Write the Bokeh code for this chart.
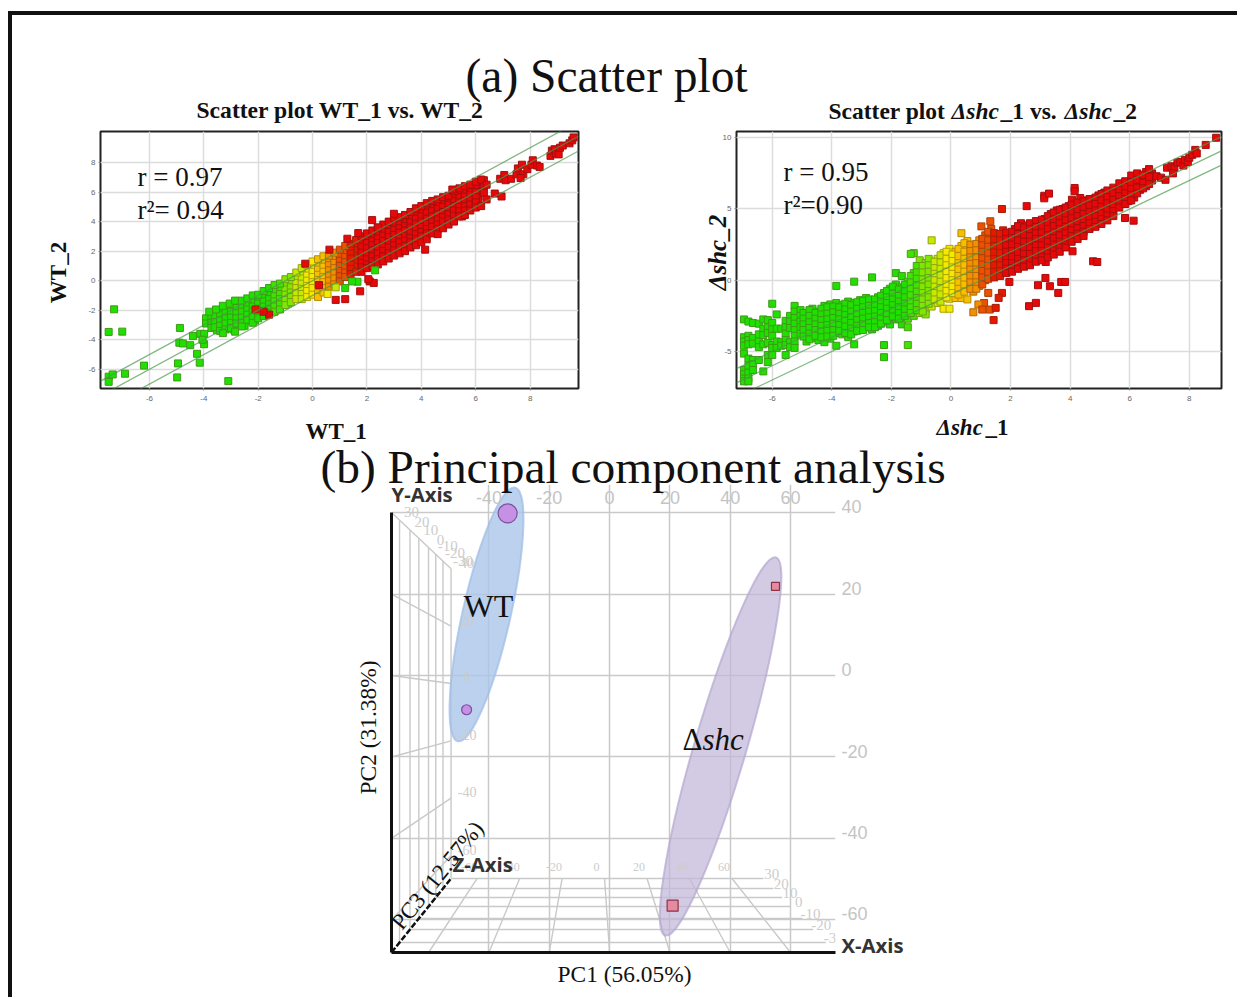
from bokeh.plotting import figure
from bokeh.embed import file_html
from bokeh.resources import INLINE
from bokeh.layouts import column, row
from bokeh.models import (Label, LabelSet, ColumnDataSource, FixedTicker, LinearAxis, Grid,
                          Range1d, LinearColorMapper)
from bokeh.transform import transform

# ---------- data: (a) WT_1 vs WT_2, read as columns x -> y values ----------
wt_columns = [
 (-3.92,[-2.55,-2.9]),(-3.72,[-2.45,-2.85,-3.2]),(-3.52,[-2.25,-2.65,-3.0,-3.35]),(-3.31,[-2.15,-2.5,-2.9,-3.25]),
 (-3.12,[-2.0,-2.4,-2.75,-3.15]),(-2.91,[-1.9,-2.25,-2.6,-3.0,-3.3]),(-2.72,[-1.8,-2.15,-2.5,-2.85]),
 (-2.5,[-1.7,-2.05,-2.4,-2.8,-3.05]),(-2.31,[-1.45,-1.85,-2.2,-2.55]),(-2.12,[-1.3,-1.65,-2.0,-2.35,-2.7]),
 (-1.91,[-1.15,-1.5,-1.85,-2.2]),(-1.72,[-1.0,-1.35,-1.7,-2.0]),(-1.51,[-0.85,-1.2,-1.55,-1.9]),
 (-1.3,[-0.75,-1.1,-1.45,-1.8]),(-1.1,[-0.35,-0.7,-1.0,-1.35]),(-0.9,[-0.2,-0.55,-0.85,-1.2,-1.55]),
 (-0.7,[0.0,-0.35,-0.7,-1.05]),(-0.5,[0.4,0.1,-0.25,-0.6,-0.95]),(-0.3,[0.6,0.25,-0.1,-0.45,-0.8]),
 (-0.1,[0.85,0.5,0.15,-0.2,-0.6]),(0.1,[1.0,0.7,0.35,0.0,-0.35,-0.75]),(0.3,[1.25,0.85,0.5,0.15,-0.2,-0.6]),
 (0.5,[1.35,1.0,0.65,0.3,-0.05,-0.4]),(0.7,[1.4,1.1,0.8,0.45,0.1]),(0.9,[1.6,1.25,0.95,0.6,0.25]),
 (1.1,[2.0,1.55,1.15,0.8,0.45]),(1.3,[2.1,1.75,1.4,1.05,0.7]),(1.5,[2.3,1.95,1.55,1.2,0.85]),
 (1.7,[2.55,2.15,1.8,1.45,1.1,0.8]),(1.9,[2.8,2.4,2.05,1.7,1.3,1.0]),(2.1,[3.0,2.65,2.3,1.95,1.6,1.2]),
 (2.3,[3.1,2.8,2.45,2.1,1.75,1.4]),(2.5,[3.35,2.95,2.6,2.3,1.95,1.55]),(2.7,[3.6,3.15,2.8,2.45,2.1,1.75]),
 (2.9,[3.7,3.4,3.05,2.7,2.35,1.95]),(3.1,[3.85,3.5,3.15,2.85,2.5,2.15]),(3.3,[3.9,3.6,3.3,2.95,2.65,2.3]),
 (3.5,[4.1,3.8,3.45,3.1,2.75,2.4]),(3.7,[4.5,4.15,3.8,3.45,3.1,2.75]),(3.9,[4.6,4.3,3.95,3.6,3.25,2.85]),
 (4.1,[4.9,4.5,4.15,3.8,3.45,3.1]),(4.3,[5.0,4.65,4.3,3.95,3.6]),(4.5,[5.1,4.8,4.45,4.1,3.7,3.25]),
 (4.7,[5.25,4.9,4.6,4.25,3.9]),(4.9,[5.4,5.1,4.75,4.4,4.05]),(5.1,[5.55,5.25,4.9,4.6,4.25]),
 (5.3,[6.0,5.6,5.3,5.0,4.65]),(5.5,[6.05,5.7,5.4,5.1,4.8,4.35]),(5.7,[6.1,5.75,5.45,5.15,4.9]),
 (5.9,[6.25,5.9,5.55,5.2]),(6.1,[6.4,6.05,5.7,5.4]),(6.3,[6.8,6.4,5.95]),(6.7,[5.9]),(6.95,[5.7]),
 (6.9,[6.9]),(7.05,[7.15]),(7.1,[6.8]),(7.3,[6.9]),(7.5,[7.2]),(7.55,[7.6]),(7.7,[7.85]),(7.75,[7.2]),(7.65,[6.95]),
 (7.9,[7.55]),(8.05,[7.85]),(8.1,[8.15]),(8.25,[7.8]),(8.35,[7.7]),(8.75,[8.45]),(8.8,[8.8]),(8.9,[8.9]),(8.95,[8.6]),
 (9.05,[8.55]),(9.1,[9.0]),(9.2,[9.15]),(9.45,[9.3]),(9.55,[9.5]),(9.6,[9.7]),
 (-7.3,[-1.94]),(-7.5,[-3.47,-6.5,-6.85]),(-7.0,[-3.45]),(-4.88,[-3.2]),(-4.9,[-4.2]),(-4.77,[-4.25]),(-4.4,[-3.75]),
 (-4.5,[-4.37]),(-4.13,[-3.6]),(-3.99,[-3.6,-4.3]),(-4.05,[-4.0]),(-4.25,[-4.95]),(-4.15,[-5.55]),(-4.95,[-5.6]),
 (-4.98,[-6.55]),(-6.2,[-5.75]),(-6.9,[-6.3]),(-7.35,[-6.35]),(-3.1,[-6.8]),
]
wt_columns_2 = [
 (1.6,[2.4,2.05,1.65,1.3,0.95]),(1.8,[2.65,2.3,1.9,1.55,1.2,0.9]),(2.0,[2.9,2.55,2.2,1.85,1.45,1.1]),(2.2,[3.05,2.7,2.4,2.05,1.65,1.3]),
 (2.4,[3.2,2.85,2.55,2.2,1.85,1.45]),(2.6,[3.45,3.05,2.7,2.35,2.0,1.65]),(2.8,[3.65,3.3,2.95,2.6,2.25,1.85]),(3.0,[3.8,3.45,3.1,2.75,2.4,2.05]),
 (3.2,[3.9,3.55,3.25,2.9,2.6,2.25]),(3.4,[4.0,3.7,3.4,3.05,2.7,2.35]),(3.6,[4.3,3.95,3.6,3.25,2.9,2.6]),(3.8,[4.55,4.2,3.85,3.5,3.15,2.8]),
 (4.0,[4.7,4.35,4.0,3.65,3.3,3.0]),(4.2,[4.95,4.6,4.2,3.85,3.5,3.2]),(4.4,[5.05,4.7,4.35,4.0,3.65]),(4.6,[5.2,4.85,4.5,4.15,3.8,3.5]),
 (4.8,[5.3,5.0,4.65,4.3,4.0]),(5.0,[5.45,5.15,4.8,4.5,4.15]),(5.2,[5.7,5.4,5.05,4.75,4.4]),(5.4,[5.95,5.65,5.3,5.0,4.7]),
 (5.6,[6.05,5.7,5.4,5.05,4.75]),(5.8,[6.15,5.8,5.5,5.15]),(6.0,[6.35,6.0,5.65,5.3]),
 (-3.6,[-2.4,-2.8,-3.15]),(-3.4,[-2.3,-2.7,-3.05,-3.4]),(-3.2,[-2.15,-2.55,-2.9,-3.3]),(-3.0,[-2.1,-2.5,-2.85,-3.2]),(-2.8,[-1.85,-2.2,-2.55,-2.9]),
 (-2.6,[-1.75,-2.1,-2.5,-2.85,-3.1]),(-2.4,[-1.6,-1.95,-2.3,-2.65]),(-2.2,[-1.35,-1.75,-2.1,-2.45]),(-2.0,[-1.2,-1.55,-1.9,-2.25]),
 (-1.8,[-1.05,-1.4,-1.75,-2.05]),(-1.6,[-0.9,-1.25,-1.6,-1.95]),(-1.4,[-0.65,-1.05,-1.4,-1.75]),(-1.2,[-0.55,-0.9,-1.25,-1.6]),
 (-1.0,[-0.25,-0.6,-0.95,-1.3]),(-0.8,[-0.1,-0.45,-0.8,-1.1]),(-0.6,[0.2,-0.15,-0.5,-0.85]),(-0.4,[0.5,0.15,-0.2,-0.55,-0.9]),
 (-0.2,[0.7,0.35,0.0,-0.35,-0.7]),(0.0,[0.95,0.6,0.25,-0.1,-0.5]),(0.2,[1.1,0.75,0.4,0.05,-0.3]),(0.4,[1.3,0.95,0.6,0.25,-0.1,-0.5]),
 (0.6,[1.35,1.05,0.7,0.35,0.0]),(0.8,[1.55,1.2,0.85,0.5,0.15]),(1.0,[1.75,1.35,1.0,0.65,0.3]),(1.2,[2.0,1.6,1.25,0.9,0.55]),(1.4,[2.2,1.85,1.5,1.1,0.8]),
]
# rough upper and lower edge of the WT cloud
wt_columns_3 = [
 (-3.8,[-2.1]),(-3.55,[-1.95]),(-3.3,[-1.7,-3.55]),(-3.05,[-1.55]),(-2.85,[-1.35,-3.45]),(-2.6,[-1.35]),(-2.4,[-1.2]),(-2.2,[-1.0,-2.85]),
 (-2.0,[-0.95,-2.55]),(-1.8,[-0.7,-2.4]),(-1.6,[-0.5,-2.2]),(-1.4,[-0.3,-2.1]),(-1.2,[-0.2,-1.95]),(-1.0,[0.1,-1.65]),(-0.8,[0.25,-1.45]),
 (-0.6,[0.55,-1.25]),(-0.4,[0.85,-1.25]),(-0.2,[1.05,-1.1]),(0.0,[1.3,-0.95]),(0.2,[1.45,-0.85,-1.1]),(0.4,[1.65,-0.8]),(0.6,[1.7,-0.4]),
 (0.8,[1.9,-0.25]),(1.0,[2.1,-0.05]),(1.2,[2.35,0.25]),(1.4,[2.5,0.45]),(1.6,[2.75,0.6]),(1.8,[3.0,0.6]),(2.0,[3.2,0.85]),(2.2,[3.4,1.0]),
 (2.4,[3.6,1.1]),(2.6,[3.8,1.3]),(2.8,[4.0,1.5]),(3.0,[4.25,1.7]),(3.2,[4.3,1.85]),(3.4,[4.45,2.0]),(3.6,[4.65,2.25]),(3.8,[4.9,2.4]),
 (4.0,[5.05,2.6]),(4.2,[5.25,2.8]),(4.4,[5.4,3.2]),(4.6,[5.5,3.15]),(4.8,[5.65,3.55]),(5.0,[5.75,3.8]),(5.2,[6.05,4.0]),(5.4,[6.25,4.35]),
 (5.6,[6.4,4.45]),(5.8,[6.5,4.75]),(6.0,[6.7,4.95]),(6.2,[6.85,5.05]),(6.4,[6.5,5.5]),
]
# points whose colour class differs from their x position: x, y, colour value
wt_odd_x = [2.19,2.99,5.14,4.14,1.68,1.28,0.62,2.4,-0.27,0.24,2.3,1.65,1.45,1.2,0.85,0.55,1.75,0.85,1.2,2.1,2.25,2.05,-1.6,-1.8,-2.1]
wt_odd_y = [4.1,4.53,6.17,2.1,3.22,2.84,2.1,3.6,1.15,-0.3,0.7,-0.07,-0.05,-0.5,-0.45,-0.9,-0.72,-1.3,-1.25,-0.05,-0.15,0.1,-2.3,-2.1,-1.95]
wt_odd_v = [3,3,3,3,3,3,3,3,3,3,-3,-3,-3,-2,-0.4,0,3,3,3,3,3,3,3,3,1.5]

# ---------- data: (a) dshc_1 vs dshc_2 ----------
dshc_columns = [
 (-6.95,[-2.75,-4.0,-4.3,-4.6,-5.15,-6.3,-6.6,-6.9,-7.1]),(-6.8,[-2.9,-3.9,-4.2,-4.5,-5.5,-6.0,-6.5,-6.9,-7.1]),
 (-6.65,[-3.0,-4.05,-4.45,-5.6,-5.9,-6.3]),(-6.45,[-3.05,-3.8,-4.3,-4.7,-5.6]),(-6.3,[-2.75,-3.4,-3.85,-4.5,-6.4]),
 (-6.15,[-2.8,-3.3,-3.7,-4.4,-5.25,-5.75]),(-6.0,[-1.65,-3.0,-3.45,-3.9,-4.55,-4.75,-5.25]),(-5.85,[-2.4,-3.4,-4.3,-4.75]),
 (-5.7,[-3.4,-4.35,-4.6]),(-5.55,[-2.85,-3.3,-3.75,-4.2,-4.55,-5.25]),(-5.4,[-2.5,-2.9,-3.35,-4.35,-4.7]),
 (-5.25,[-1.8,-2.2,-2.65,-3.05,-3.5,-3.9,-4.3,-4.75]),(-5.05,[-2.1,-2.5,-2.9,-3.3,-3.75]),(-4.85,[-2.3,-2.7,-3.1,-3.5,-3.9,-4.3]),
 (-4.65,[-2.0,-2.4,-2.85,-3.25,-3.65,-4.05]),(-4.45,[-2.2,-2.6,-3.0,-3.4,-3.8,-4.2]),(-4.25,[-1.8,-2.2,-2.6,-3.0,-3.4,-3.85,-4.35]),
 (-4.05,[-1.7,-2.15,-2.55,-2.95,-3.35,-3.75,-4.1]),(-3.85,[-0.4,-1.6,-2.05,-2.45,-2.85,-3.25,-3.7,-4.6]),
 (-3.65,[-1.75,-2.15,-2.55,-2.95,-3.35,-3.8]),(-3.45,[-1.5,-1.95,-2.35,-2.75,-3.15,-3.6,-4.0]),
 (-3.25,[-0.1,-1.6,-2.0,-2.4,-2.8,-3.2,-3.6,-4.5]),(-3.05,[-1.4,-1.8,-2.2,-2.6,-3.0,-3.4]),(-2.85,[-1.25,-1.7,-2.1,-2.5,-2.9,-3.3]),
 (-2.65,[0.2,-1.5,-1.9,-2.3,-2.7,-3.1,-3.45]),(-2.45,[-1.2,-1.6,-2.0,-2.4,-2.8,-3.2]),(-2.25,[-0.9,-1.3,-1.7,-2.1,-2.5,-2.9,-4.55,-5.4]),
 (-2.05,[-0.6,-1.05,-1.45,-1.85,-2.25,-2.65,-3.1]),(-1.85,[0.5,-0.3,-0.8,-1.2,-1.6,-2.0,-2.4,-2.75]),
 (-1.65,[0.3,-0.5,-0.95,-1.35,-1.75,-2.15,-2.6,-3.1]),(-1.45,[-0.1,-0.6,-1.05,-1.5,-1.9,-2.3,-2.7,-3.3,-4.55]),
 (-1.25,[1.9,0.5,0.05,-0.4,-0.85,-1.3,-1.7,-2.1,-2.5]),(-1.05,[1.4,0.9,0.4,-0.1,-0.55,-1.0,-1.45,-1.9,-2.3]),
 (-0.85,[1.2,0.7,0.3,-0.2,-0.7,-1.15,-1.6,-2.05,-2.4]),(-0.65,[2.8,1.3,0.85,0.4,-0.05,-0.5,-0.95,-1.4,-1.85]),
 (-0.45,[1.5,1.05,0.65,0.2,-0.25,-0.7,-1.15,-1.6]),(-0.25,[1.9,1.45,1.0,0.55,0.1,-0.35,-0.8,-1.25,-2.0]),
 (-0.05,[2.2,1.7,1.25,0.8,0.35,-0.1,-0.55,-1.0,-1.3,-2.0]),(0.15,[2.0,1.55,1.1,0.65,0.2,-0.25,-0.7,-1.25]),
 (0.35,[3.3,2.4,1.85,1.4,0.95,0.5,0.05,-0.4,-1.25]),(0.55,[2.75,2.2,1.7,1.25,0.8,0.35,-0.1,-0.55,-1.35]),
 (0.75,[2.3,1.9,1.5,1.05,0.6,0.15,-0.3,-0.8]),(0.95,[2.8,2.3,1.85,1.4,0.95,0.5,0.05,-0.4]),
 (1.15,[3.15,2.65,2.2,1.75,1.3,0.9,0.45,0.0]),(1.35,[3.6,3.0,2.5,2.05,1.6,1.15,0.7,0.3]),
 (1.55,[3.1,2.7,2.25,1.8,1.35,0.95,0.55]),(1.75,[3.5,3.0,2.55,2.1,1.65,1.25,0.8]),(1.95,[3.2,2.75,2.3,1.9,1.45,1.05]),
 (2.15,[3.6,3.1,2.65,2.2,1.8,1.4,1.0]),(2.35,[4.0,3.4,2.95,2.5,2.05,1.6,1.2]),(2.55,[3.85,3.35,2.9,2.45,2.0,1.6,1.1]),
 (2.75,[3.9,3.5,3.05,2.6,2.15,1.75]),(2.95,[4.1,3.65,3.2,2.75,2.35,1.9]),(3.15,[4.3,3.85,3.4,3.0,2.55,2.15]),
 (3.35,[4.65,4.1,3.65,3.2,2.8,2.4]),(3.55,[4.9,4.4,3.95,3.5,3.05,2.6]),(3.75,[5.0,4.55,4.1,3.7,3.25,2.85]),
 (3.95,[5.2,4.7,4.3,3.85,3.45,3.0]),(4.15,[5.35,4.85,4.4,4.0,3.6,3.2]),(4.35,[5.5,5.05,4.6,4.15,3.75,3.3]),
 (4.55,[5.6,5.2,4.75,4.35,3.9]),(4.75,[5.55,5.1,4.7,4.3,3.85]),(4.95,[5.95,5.5,5.05,4.6,4.2]),
 (5.15,[6.15,5.7,5.25,4.8,4.45]),(5.35,[6.25,5.8,5.4,5.0,4.6]),(5.55,[6.4,6.0,5.55,5.15]),(5.75,[6.65,6.2,5.75,5.35]),
 (5.95,[6.85,6.4,6.0,5.55]),(6.15,[7.2,6.6,6.2,5.8]),(6.35,[7.3,6.75,6.35]),(6.55,[7.6,7.05,6.6]),(6.75,[7.5,7.0]),
 (6.9,[7.3]),(7.05,[7.2]),(7.2,[7.05]),(7.25,[7.9]),(7.4,[8.0]),(7.5,[7.9]),(7.45,[7.5]),(7.6,[8.25]),(7.7,[8.3]),(7.8,[8.05]),
 (7.85,[8.45]),(7.95,[8.3]),(8.0,[8.6]),(8.1,[8.8]),(8.2,[9.15]),(8.25,[8.9]),(8.55,[9.5]),(8.9,[10.0]),
 (1.71,[5.0]),(2.54,[5.2]),(3.13,[5.93,5.75]),(3.29,[6.08]),(4.15,[6.47,6.25]),(4.34,[5.77]),(4.06,[5.65]),(1.02,[3.78]),(1.32,[4.14]),
 (4.08,[2.03]),(4.77,[1.33]),(4.91,[1.28]),(5.84,[4.37]),(6.13,[4.18]),(3.18,[1.28]),(1.96,[-0.12]),(3.17,[0.16]),(2.92,[-0.35]),
 (3.32,[-0.42]),(3.7,[-0.12]),(3.83,[-0.12]),(3.6,[-0.89]),(2.62,[-1.82]),(2.85,[-1.59]),(1.71,[-0.89]),(1.6,[-1.24]),
 (1.25,[-0.89]),(1.11,[-1.6]),(0.92,[-1.7]),(1.05,[-2.06]),(1.3,[-2.06]),(1.5,[-1.94]),(0.75,[-2.25]),(1.43,[-2.8]),
]
dshc_columns_2 = [
 (-4.95,[-2.3,-2.7,-3.1,-3.5,-3.95]),(-4.75,[-2.1,-2.5,-2.95,-3.35,-3.75,-4.15]),(-4.55,[-2.3,-2.7,-3.1,-3.5,-3.9]),(-4.35,[-2.0,-2.4,-2.8,-3.2,-3.6,-4.0]),
 (-4.15,[-1.9,-2.35,-2.75,-3.15,-3.55,-3.95]),(-3.95,[-1.85,-2.25,-2.65,-3.05,-3.5,-3.9]),(-3.75,[-1.9,-2.35,-2.75,-3.15,-3.55]),(-3.55,[-1.65,-2.05,-2.45,-2.85,-3.25,-3.7]),
 (-3.35,[-1.75,-2.2,-2.6,-3.0,-3.4,-3.8]),(-3.15,[-1.55,-2.0,-2.4,-2.8,-3.2,-3.55]),(-2.95,[-1.45,-1.9,-2.3,-2.7,-3.1,-3.5]),(-2.75,[-1.35,-1.8,-2.2,-2.6,-3.0,-3.3]),
 (-2.55,[-1.35,-1.75,-2.15,-2.55,-2.95,-3.3]),(-2.35,[-1.1,-1.5,-1.9,-2.3,-2.7,-3.05]),(-2.15,[-0.75,-1.2,-1.6,-2.0,-2.4,-2.8]),(-1.95,[-0.45,-0.95,-1.35,-1.75,-2.15,-2.55]),
 (-1.75,[-0.65,-1.1,-1.5,-1.9,-2.3,-2.7]),(-1.55,[-0.3,-0.75,-1.2,-1.65,-2.05,-2.5]),
 (-1.35,[1.85,0.3,-0.15,-0.6,-1.05,-1.5,-1.9,-2.3]),(-1.15,[1.0,0.55,0.1,-0.35,-0.8,-1.25,-1.65,-2.1]),(-0.95,[1.0,0.55,0.05,-0.45,-0.9,-1.35,-1.8,-2.2]),
 (-0.75,[1.5,1.05,0.6,0.15,-0.3,-0.75,-1.2,-1.65]),(-0.55,[1.3,0.85,0.45,0.0,-0.45,-0.9,-1.35]),(-0.35,[1.75,1.25,0.8,0.35,-0.1,-0.55,-1.0,-1.5]),
 (-0.15,[2.0,1.5,1.05,0.6,0.15,-0.3,-0.75,-1.2]),(0.05,[1.8,1.35,0.9,0.45,0.0,-0.45,-0.9]),(0.25,[2.2,1.7,1.2,0.75,0.3,-0.15,-0.6,-1.0]),
 (0.45,[2.6,2.0,1.5,1.05,0.6,0.15,-0.3,-0.8]),(0.65,[2.5,2.05,1.6,1.15,0.75,0.3,-0.15,-0.6]),(0.85,[2.55,2.1,1.6,1.2,0.75,0.3,-0.15,-0.6]),
 (1.05,[2.9,2.45,2.0,1.55,1.1,0.65,0.2,-0.3]),(1.25,[3.4,2.8,2.35,1.9,1.45,1.0,0.55,0.1]),(1.45,[3.3,2.85,2.4,1.95,1.5,1.05,0.6,0.2]),(1.65,[3.25,2.8,2.35,1.9,1.45,1.05,0.65,0.3]),
 (1.85,[3.35,2.9,2.45,2.0,1.6,1.2,0.8,0.5]),(2.05,[3.4,2.95,2.5,2.05,1.65,1.2,0.85,0.6]),(2.25,[3.8,3.25,2.8,2.35,1.95,1.5,1.1,0.8]),(2.45,[3.7,3.2,2.7,2.25,1.85,1.4,0.95]),
 (2.65,[4.0,3.6,3.1,2.7,2.3,1.85,1.4,1.05]),(2.85,[4.15,3.75,3.3,2.9,2.45,2.05,1.6,1.3]),(3.05,[4.25,3.8,3.35,2.9,2.45,2.05,1.65,1.4]),(3.25,[4.5,4.05,3.6,3.15,2.7,2.3,1.9,1.6]),
 (3.45,[4.75,4.25,3.8,3.35,2.95,2.5,2.1,1.8]),(3.65,[4.95,4.45,4.0,3.6,3.15,2.7,2.3,2.0]),(3.85,[5.1,4.6,4.2,3.75,3.3,2.9,2.5,2.3]),(4.05,[5.3,4.8,4.35,3.9,3.5,3.1,2.7]),
 (4.25,[5.45,4.95,4.5,4.1,3.65,3.25,2.9]),(4.45,[5.55,5.1,4.65,4.25,3.8,3.4,3.1]),(4.65,[5.7,5.25,4.8,4.4,4.0,3.6]),(4.85,[5.8,5.35,4.9,4.5,4.1,3.75]),
 (5.05,[6.05,5.6,5.15,4.7,4.3,3.95]),(5.25,[6.3,5.85,5.4,4.95,4.55,4.2]),(5.45,[6.5,6.1,5.65,5.25,4.85,4.5]),(5.65,[6.8,6.35,5.9,5.5,5.1]),(5.85,[6.95,6.55,6.1,5.7,5.35]),
 (6.05,[7.35,6.9,6.4,6.0,5.6]),(6.25,[7.5,7.05,6.5,6.1]),(6.45,[7.4,6.85,6.45]),(6.65,[7.8,7.25,6.75]),
]

# ---------- data: (b) PCA ----------
wt_pc1 = [-33.8, -47.4]
wt_pc2 = [39.8, -8.4]
wt_size = [19, 10]
dshc_pc1 = [55.0, 20.9]
dshc_pc2 = [21.9, -56.5]
dshc_size = [8, 11]
x_ticks = [-40, -20, 0, 20, 40, 60]
y_ticks = [40, 20, 0, -20, -40, -60]
floor_x_ticks = [-60, -40, -20, 0, 20, 40, 60]
wall_y_ticks = [40, 20, 0, -20, -40, -60]
z_ticks = [30, 20, 10, 0, -10, -20, -30]
z_depth = [0.704, 0.744, 0.78, 0.816, 0.864, 0.908, 0.96]   # perspective scale of each z tick

SERIF = "Liberation Serif"
palette_fill = ["#1fe000","#3fe400","#7fe800","#c4ea00","#f2ea00","#f5c000","#f29000","#ec5000","#e81800","#e80808"]
palette_line = ["#3f9a18","#4c9c18","#6f9f18","#97a010","#b0a008","#b88a08","#b06808","#a84008","#a02008","#a01010"]

def flatten(cols):
    xs, ys = [], []
    for x, vals in cols:
        for y in vals:
            xs.append(x); ys.append(y)
    return xs, ys

def hyphens(ticks):
    return {t: str(t) for t in ticks}

def scatter_panel(w, h, margins, xr, yr, xt, yt, cols, odd=None):
    p = figure(width=w, height=h, x_range=Range1d(*xr), y_range=Range1d(*yr), output_backend="svg", toolbar_location=None,
               min_border_left=margins[0], min_border_right=margins[1], min_border_top=margins[2], min_border_bottom=margins[3])
    p.outline_line_color = "#222222"; p.outline_line_width = 2
    p.xaxis.ticker = FixedTicker(ticks=xt); p.yaxis.ticker = FixedTicker(ticks=yt)
    p.xaxis.major_label_overrides = hyphens(xt); p.yaxis.major_label_overrides = hyphens(yt)
    for ax in (p.xaxis, p.yaxis):
        ax.axis_line_color = None
        ax.major_tick_out = 2; ax.major_tick_in = 0
        ax.minor_tick_line_color = None
        ax.major_tick_line_color = "#888888"
        ax.major_label_text_font_size = "8px"
        ax.major_label_text_color = "#666666"
        ax.major_label_standoff = 3
    p.xaxis.major_label_standoff = 5
    p.grid.grid_line_color = "#dcdcdc"; p.grid.grid_line_width = 1.5
    xs, ys = flatten(cols)
    vs = list(xs)
    if odd:
        xs = xs + odd[0]; ys = ys + odd[1]; vs = vs + odd[2]
    src = ColumnDataSource(dict(x=xs, y=ys, v=vs))
    fm = LinearColorMapper(palette=palette_fill, low=-1.9, high=2.2)
    lm = LinearColorMapper(palette=palette_line, low=-1.9, high=2.2)
    p.scatter("x", "y", source=src, marker="square", size=7, fill_color=transform("v", fm),
              line_color=transform("v", lm), line_width=1)
    # fold-change guide lines y = x + k
    for k in (-1, 0, 1):
        lx = [xr[0], xr[1]]
        p.line(lx, [v + k for v in lx], line_color="#4c9a4c", line_alpha=0.7, line_width=1.3)
    return p

# ---------- scatter panels ----------
pa = scatter_panel(628, 428, (88, 62, 115, 55), (-7.8, 9.78), (-7.3, 10.1),
                   [-6,-4,-2,0,2,4,6,8], [-6,-4,-2,0,2,4,6,8], wt_columns + wt_columns_2 + wt_columns_3,
                   (wt_odd_x, wt_odd_y, wt_odd_v))
pb = scatter_panel(597, 428, (96, 16, 116, 55), (-7.2, 9.08), (-7.6, 10.44),
                   [-6,-4,-2,0,2,4,6,8], [-5,0,5,10], dshc_columns + dshc_columns_2)

# ---------- PCA ----------
xmin, xmax, ymin, ytop, ymax = -72.3, 74.9, -68, 40, 46.9
pc = figure(width=1225, height=554, x_range=Range1d(xmin, xmax), y_range=Range1d(ymin, ymax), output_backend="svg",
            toolbar_location=None, x_axis_location=None, y_axis_location=None, min_border_left=379, min_border_right=402,
            min_border_top=41, min_border_bottom=45)
pc.outline_line_color = None
pc.grid.visible = False
vx, vy = -5.6, -6.6

def proj(x, y, s):
    return vx + (x - vx) * s, vy + (y - vy) * s

GRID = "#c9c9c9"
pc.add_layout(Grid(dimension=0, ticker=FixedTicker(ticks=x_ticks), bounds=(ymin, ytop), grid_line_color=GRID, grid_line_width=1.5))
pc.add_layout(Grid(dimension=1, ticker=FixedTicker(ticks=y_ticks), grid_line_color=GRID, grid_line_width=1.5))

def seg(a, b):
    return [a[0], b[0]], [a[1], b[1]]

lines = []
for s in z_depth:
    lines.append(seg(proj(xmin, ymin, s), proj(xmax, ymin, s)))          # floor z lines
    lines.append(seg(proj(xmin, ymin, s), proj(xmin, ytop, s)))          # wall verticals
for x in floor_x_ticks:
    lines.append(seg(proj(x, ymin, 1.0), proj(x, ymin, z_depth[0])))     # floor x lines
for y in wall_y_ticks:
    lines.append(seg(proj(xmin, y, 1.0), proj(xmin, y, z_depth[0])))     # wall y lines
pc.multi_line([l[0] for l in lines], [l[1] for l in lines], line_color=GRID, line_width=1.4)

zx, zy = seg(proj(xmin, ymin, 1.0), proj(xmin, ymin, z_depth[0]))
pc.line(zx, zy, line_color="#111111", line_width=2.5, line_dash="6 2")

# group ellipses
pc.ellipse(x=[-40.8], y=[15.0], width=[260], height=[48], angle=[1.349], width_units="screen", height_units="screen",
           fill_color="#abc6ea", fill_alpha=0.8, line_color="#9dbce6", line_alpha=0.7, line_width=2)
pc.ellipse(x=[36.8], y=[-17.4], width=[394], height=[52], angle=[1.286], width_units="screen", height_units="screen",
           fill_color="#c2b7da", fill_alpha=0.72, line_color="#b3a7cf", line_alpha=0.7, line_width=2)

pc.scatter(wt_pc1, wt_pc2, marker="circle", size=wt_size, fill_color="#c690e4", line_color="#7d4fa0", line_width=1.2)
pc.scatter(dshc_pc1, dshc_pc2, marker="square", size=dshc_size, fill_color="#e58aa0", line_color="#8c3345", line_width=1.2)

def axis_style(ax, color="#c4c4c4", size="18px"):
    ax.axis_line_color = None
    ax.major_tick_line_color = None
    ax.minor_tick_line_color = None
    ax.major_tick_out = 0
    ax.major_tick_in = 0
    ax.major_label_text_color = color
    ax.major_label_text_font = "Liberation Sans"
    ax.major_label_text_font_size = size

top_ax = LinearAxis(ticker=FixedTicker(ticks=x_ticks), fixed_location=ytop, major_label_standoff=9,
                    major_label_overrides=hyphens(x_ticks))
axis_style(top_ax)
pc.add_layout(top_ax, "above")
# the right-hand labels sit a little above their grid lines in the reference
pc.extra_y_ranges["labels"] = Range1d(ymin - 1.47, ymax - 1.47)
right_ax = LinearAxis(ticker=FixedTicker(ticks=y_ticks), y_range_name="labels", major_label_standoff=6,
                      major_label_overrides=hyphens(y_ticks))
axis_style(right_ax)
pc.add_layout(right_ax, "right")
for side, bounds in (("left", (ymin, ytop)), ("below", (xmin, xmax))):
    ax = LinearAxis(ticker=FixedTicker(ticks=[]), bounds=bounds, axis_line_color="#111111", axis_line_width=3,
                    major_tick_line_color=None, minor_tick_line_color=None)
    pc.add_layout(ax, side)

def tick_labels(points, texts, dx, dy, size, color="#cccccc"):
    src = ColumnDataSource(dict(x=[q[0] for q in points], y=[q[1] for q in points], t=[str(v) for v in texts]))
    pc.add_layout(LabelSet(x="x", y="y", text="t", source=src, x_offset=dx, y_offset=dy, text_align="center",
                           text_baseline="middle", text_color=color, text_font="Liberation Sans", text_font_size=size))

tick_labels([proj(x, ymin, z_depth[0]) for x in floor_x_ticks], floor_x_ticks, -8, 11, "12px")
tick_labels([proj(xmin, y, z_depth[0]) for y in wall_y_ticks], wall_y_ticks, 16, 6, "14px")
tick_labels([proj(xmax, ymin, s) for s in z_depth], z_ticks, 8, 4, "15px")
tick_labels([proj(xmin, ytop, s) for s in reversed(z_depth)], z_ticks, 12, 8, "15px")

# ---------- transparent page-wide layer carrying every free text ----------
ov = figure(width=1225, height=982, x_range=Range1d(12, 1237), y_range=Range1d(997, 15), output_backend="svg",
            toolbar_location=None, x_axis_location=None, y_axis_location=None, min_border=0,
            background_fill_alpha=0, border_fill_alpha=0)
ov.outline_line_color = None
ov.grid.visible = False

def put(px, py, text, size, font=SERIF, style="normal", color="#111111", align="left", angle=0):
    ov.add_layout(Label(x=px, y=py, text=text, text_font=font, text_font_size=f"{size}px", text_font_style=style,
                        text_color=color, text_align=align, text_baseline="middle", angle=angle, angle_units="deg"))

put(465, 75, "(a) Scatter plot", 47.5)
put(196, 109, "Scatter plot WT_1 vs. WT_2", 23.6, style="bold")
put(137, 176, "r = 0.97", 27)
put(137, 209, "r\u00b2= 0.94", 27)
put(305, 431, "WT_1", 23, style="bold")
put(58, 272, "WT_2", 23, style="bold", align="center", angle=90)
put(828, 110, "Scatter plot", 23.5, style="bold")
put(951, 110, "\u0394shc", 23.5, style="bold italic")
put(1000, 110, "_1 vs.", 23.5, style="bold")
put(1064, 110, "\u0394shc", 23.5, style="bold italic")
put(1113, 110, "_2", 23.5, style="bold")
put(783, 171, "r = 0.95", 27)
put(783, 204, "r\u00b2=0.90", 27)
put(936, 427, "\u0394shc", 23, style="bold italic")
put(985, 427, "_1", 23, style="bold")
put(717, 252, "\u0394shc_2", 25, style="bold italic", align="center", angle=90)
put(320, 466, "(b) Principal  component analysis", 47.4)
put(391, 493, "Y-Axis", 20.3, font="Open Sans", style="bold", color="#333333")
put(452, 863, "Z-Axis", 20.3, font="Open Sans", style="bold", color="#333333")
put(841, 944, "X-Axis", 20.3, font="Open Sans", style="bold", color="#333333")
put(463, 605, "WT", 32)
put(682, 739, "\u0394", 31)
put(702, 739, "shc", 31, style="italic")
put(624, 973, "PC1 (56.05%)", 23.4, align="center")
put(367, 727, "PC2 (31.38%)", 23.4, align="center", angle=90)
put(437, 875, "PC3 (12.57%)", 23, align="center", angle=51)

root = column(row(pa, pb, spacing=0), row(pc), row(ov, margin=(-982, 0, 0, 0)), spacing=0, margin=(11, 0, 0, 8),
              styles={"border-left": "4px solid #111111", "border-top": "4px solid #111111"})
open("out.html", "w").write(file_html(root, INLINE))
